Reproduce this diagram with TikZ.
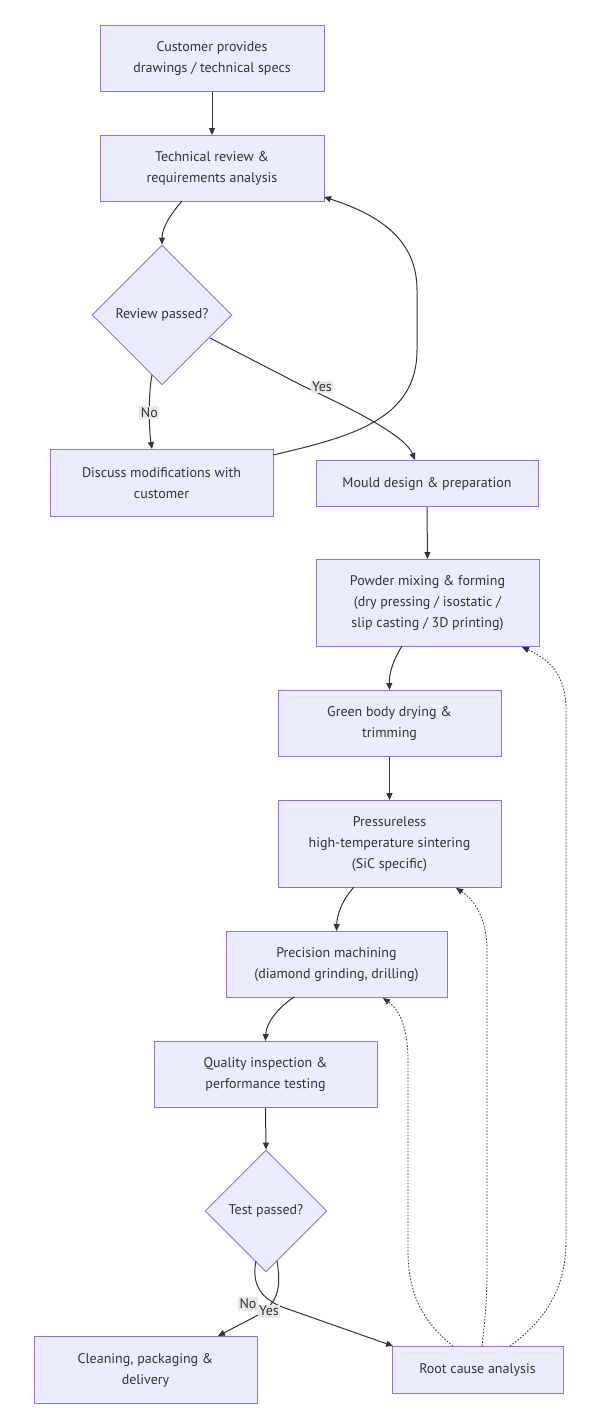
\documentclass[tikz,border=0pt]{standalone}
\usepackage{fontspec}
\setmainfont{PT Sans}
\usetikzlibrary{arrows.meta,shapes.geometric}
\definecolor{boxfill}{HTML}{ECECFF}
\definecolor{boxline}{HTML}{9370DB}
\definecolor{edgecol}{HTML}{333333}
\definecolor{txtcol}{HTML}{333333}
\definecolor{lblfill}{HTML}{E8E8E8}
\tikzset{
  procbox/.style={draw=boxline, fill=boxfill, line width=0.9pt, text=txtcol,
    align=center, inner sep=0pt, font=\fontsize{14}{21}\selectfont},
  decbox/.style={draw=boxline, fill=boxfill, line width=0.9pt, text=txtcol,
    diamond, aspect=1, inner sep=0pt, font=\fontsize{14}{21}\selectfont},
  flow/.style={draw=edgecol, line width=1pt, -{Triangle[length=7pt,width=6pt]}},
  backflow/.style={draw=edgecol, line width=0.8pt, dash pattern=on 1.6pt off 1.6pt,
    -{Triangle[length=7pt,width=6pt]}},
  lbl/.style={fill=lblfill, text=txtcol, inner sep=1.5pt, font=\fontsize{14}{16}\selectfont}
}
\begin{document}
\begin{tikzpicture}[x=1pt,y=-1pt]
\useasboundingbox (0,0) rectangle (600,1428);
\fill[white] (0,0) rectangle (600,1428);

\node[procbox, minimum width=224pt, minimum height=66pt] (cust) at (212,58.5) {Customer provides\\drawings / technical specs};
\node[procbox, minimum width=224pt, minimum height=66pt] (tech) at (212,168.5) {Technical review \&\\requirements analysis};
\node[decbox, minimum width=140pt, minimum height=140pt] (rev) at (162,315) {Review passed?};
\node[procbox, minimum width=223pt, minimum height=67pt] (disc) at (161.5,483) {Discuss modifications with\\customer};
\node[procbox, minimum width=222pt, minimum height=46pt] (mould) at (427,483.5) {Mould design \& preparation};
\node[procbox, minimum width=223pt, minimum height=87pt] (powd) at (427.5,603) {Powder mixing \& forming\\(dry pressing / isostatic /\\slip casting / 3D printing)};
\node[procbox, minimum width=223pt, minimum height=66pt] (green) at (389.5,723.5) {Green body drying \&\\trimming};
\node[procbox, minimum width=223pt, minimum height=87pt] (sint) at (389.5,844) {Pressureless\\high-temperature sintering\\(SiC specific)};
\node[procbox, minimum width=221pt, minimum height=66pt] (mach) at (336.5,964.5) {Precision machining\\(diamond grinding, drilling)};
\node[procbox, minimum width=223pt, minimum height=66pt] (qual) at (265.5,1074.5) {Quality inspection \&\\performance testing};
\node[decbox, minimum width=122pt, minimum height=122pt] (test) at (266,1211) {Test passed?};
\node[procbox, minimum width=223pt, minimum height=67pt] (clean) at (145.5,1370) {Cleaning, packaging \&\\delivery};
\node[procbox, minimum width=171pt, minimum height=47pt] (root) at (477.5,1370) {Root cause analysis};

% coordinates on node borders
\coordinate (techB) at (182,201);
\coordinate (techR) at (324,197);
\coordinate (revT) at (rev.north);
\coordinate (revBL) at (152,375);
\coordinate (revBR) at (210,338);
\coordinate (discT) at (152,449);
\coordinate (discR) at (273,455);
\coordinate (mouldT) at (415,460);
\coordinate (powdB) at (402,646);
\coordinate (powdR) at (522,647);
\coordinate (sintB) at (354,887);
\coordinate (sintR) at (456,888);
\coordinate (machB) at (294,997);
\coordinate (machR) at (383,998);
\coordinate (testBL) at (256,1261);
\coordinate (testBR) at (277,1261);
\coordinate (cleanT) at (218,1336);
\coordinate (rootL) at (393,1346);
\coordinate (rootA) at (453,1346);
\coordinate (rootB) at (482,1346);
\coordinate (rootC) at (510,1346);

\draw[flow] (cust.south) -- (tech.north);
\draw[flow] (techB) .. controls (170,215) and (162,228) .. (revT);
\draw[flow] (revBL) .. controls (148,395) and (149,430) .. (discT)
  node[lbl, pos=0.5] {No};
\draw[flow] (revBR) -- (303,386) .. controls (350,408) and (405,435) .. (mouldT);
\node[lbl] (yes1) at (322,387) {Yes};
\draw[flow] (discR) .. controls (350,437) and (417,420) .. (417,350) -- (417,290) .. controls (417,240) and (380,215) .. (techR);
\draw[flow] (mould.south) -- (powd.north);
\draw[flow] (powdB) .. controls (392,662) and (389,675) .. (green.north);
\draw[flow] (green.south) -- (sint.north);
\draw[flow] (sintB) .. controls (342,900) and (337,915) .. (mach.north);
\draw[flow] (machB) .. controls (275,1010) and (266,1025) .. (qual.north);
\draw[flow] (qual.south) -- (test.north);
\draw[flow] (testBR) .. controls (281,1285) and (279,1300) .. (262,1313) -- (cleanT);
\draw[flow] (testBL) .. controls (251,1285) and (262,1300) .. (285,1308) -- (rootL);
\node[lbl] (no2) at (248,1304) {No};
\node[lbl] (yes2) at (269,1311) {Yes};

\draw[backflow] (rootA) .. controls (420,1320) and (408,1290) .. (408,1250) -- (408,1060) .. controls (408,1030) and (400,1010) .. (machR);
\draw[backflow] (rootB) .. controls (485,1320) and (487,1300) .. (487,1270) -- (487,950) .. controls (487,920) and (475,900) .. (sintR);
\draw[backflow] (rootC) .. controls (545,1320) and (566,1290) .. (566,1240) -- (566,710) .. controls (566,675) and (550,660) .. (powdR);
\end{tikzpicture}
\end{document}
